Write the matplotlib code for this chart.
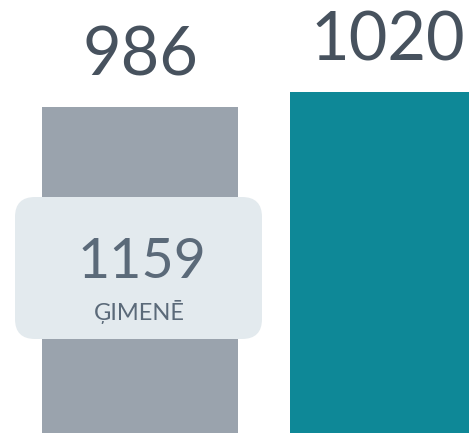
import numpy as np
import matplotlib
matplotlib.use('Agg')
import matplotlib.pyplot as plt
from matplotlib.patches import FancyBboxPatch
from matplotlib.transforms import IdentityTransform

# data
categories = ['A', 'B']
values = [986, 1020]
bar_colors = ['#9aa3ad', '#0e8897']
box_value = 1159
box_label = 'ĢIMENĒ'

plt.rcParams['font.family'] = ['Lato', 'DejaVu Sans']

W, H = 469, 433
fig = plt.figure(figsize=(W / 100, H / 100), dpi=100)
ax = fig.add_axes([0, 0, 1, 1])
ax.axis('off')

x = np.arange(len(values))
ax.bar(x, values, width=0.79, color=bar_colors)
ax.set_xlim(-0.5645, 1.3266)
ax.set_ylim(247, 1229)

for xi, v in zip(x, values):
    ax.annotate(str(v), (xi, v), xytext=(0, 23), textcoords='offset points',
                ha='center', va='baseline', fontsize=48, color='#47525e')

# rounded info box, in pixel coords
box = FancyBboxPatch((15, H - 339), 247, 142,
                     boxstyle='round,pad=0,rounding_size=20',
                     transform=IdentityTransform(), facecolor='#e3eaee',
                     edgecolor='none', zorder=3)
fig.patches.append(box)
fig.text(142 / W, 1 - 278 / H, str(box_value), ha='center', va='baseline',
         fontsize=40, color='#5b6a79', zorder=4)
fig.text(139 / W, 1 - 320 / H, box_label, ha='center', va='baseline',
         fontsize=17, color='#5b6a79', zorder=4)

fig.savefig('out.png', dpi=100)
